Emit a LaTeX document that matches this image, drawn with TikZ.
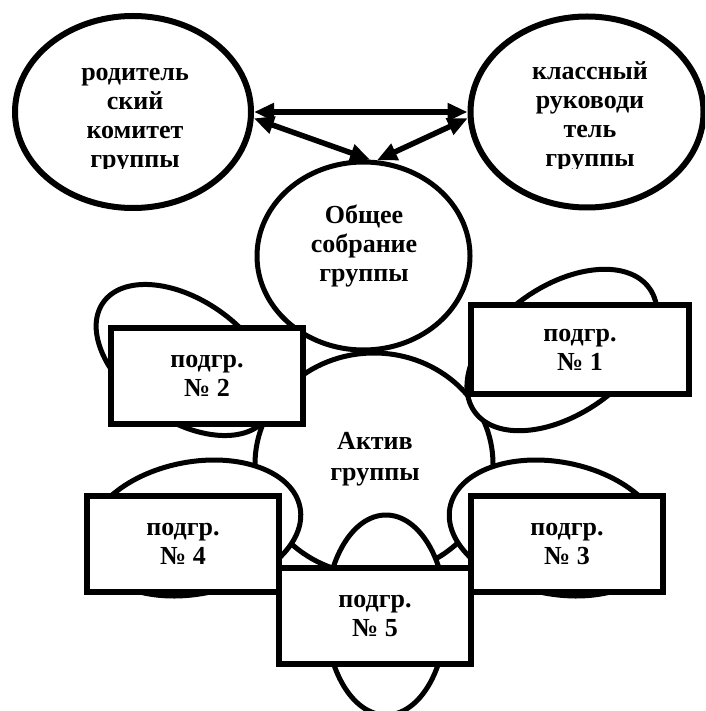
\documentclass[tikz,border=0pt]{standalone}
\usepackage{fontspec}
\setmainfont{Liberation Serif}
\usetikzlibrary{shapes.geometric, arrows.meta}
\tikzset{
	circ/.style={draw, ellipse, line width=5pt, fill=white, inner sep=0pt},
	petal/.style={draw, ellipse, line width=5pt, fill=white, inner sep=0pt},
	sub/.style={draw, rectangle, line width=6pt, fill=white, inner sep=0pt, align=center, font=\fontsize{26}{29}\selectfont\bfseries, minimum width=192pt, minimum height=96pt},
	% texts of the ovals, placed by their top
	lbl/.style={inner sep=0pt, anchor=north, align=center, font=\fontsize{26}{29}\selectfont\bfseries},
}

\begin{document}
\begin{tikzpicture}[x=1pt, y=-1pt]
	\useasboundingbox (0,0) rectangle (705,711);
	\clip (0,0) rectangle (705,711);
	\fill[white] (0,0) rectangle (705,711);

	% top row
	\node (pk) [circ, line width=6pt, minimum width=236pt, minimum height=192pt] at (133,112) {};
	\node (kr) [circ, line width=6pt, minimum width=233pt, minimum height=191pt] at (587,112) {};
	\begin{scope}
		\clip (0,0) rectangle (705,169);
		\node (pkt) [lbl] at (135,59.7) {\strut родитель\\ский\\комитет\\группы};
		\node (krt) [lbl] at (590,58.7) {\strut классный\\руководи\\тель\\группы};
	\end{scope}

	% centre
	\node (ak) [circ, minimum width=238pt, minimum height=222pt] at (374,464) {};
	\node (akt) [lbl] at (375,428.7) {\strut Актив\\[2pt]группы};
	\node (os) [circ, minimum width=213pt, minimum height=188pt] at (363.5,256) {};
	\node (ost) [lbl] at (364,202.7) {\strut Общее\\собрание\\группы};

	% petals behind the subgroups
	\node (e1) [petal, rotate=35, minimum width=214pt, minimum height=128pt] at (562,350) {};
	\node (e2) [petal, rotate=-35, minimum width=200pt, minimum height=120pt] at (185,360) {};
	\node (e3) [petal, rotate=-11, minimum width=216pt, minimum height=132pt] at (556,528) {};
	\node (e4) [petal, rotate=11, minimum width=216pt, minimum height=132pt] at (194,528) {};
	\node (e5) [petal, minimum width=120pt, minimum height=200pt] at (386,615) {};

	% subgroups
	\node (p1) [sub, minimum width=218pt, minimum height=89pt] at (580,349.5) {подгр.\\№ 1};
	\node (p2) [sub] at (207,376) {подгр.\\№ 2};
	\node (p4) [sub] at (183,544) {подгр.\\№ 4};
	\node (p3) [sub] at (567,544) {подгр.\\№ 3};
	\node (p5) [sub] at (375,616) {подгр.\\№ 5};

	\begin{scope}[line width=5.5pt, >={Triangle[length=20pt, width=17pt]}]
		\draw[<->] (pk.east) -- (kr.west);
		\draw[<->] (pk.-3) -- (os.86);
		\draw[<->] (kr.183) -- (os.82);
	\end{scope}
\end{tikzpicture}
\end{document}
